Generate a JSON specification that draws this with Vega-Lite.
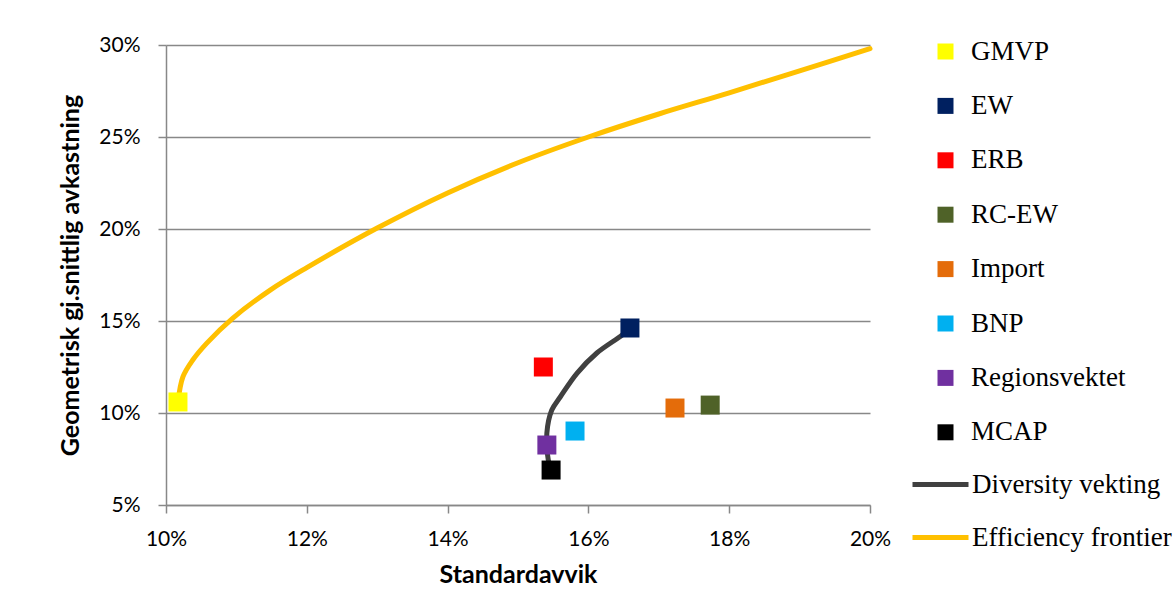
{
  "$schema": "https://vega.github.io/schema/vega-lite/v6.json",
  "width": 704,
  "height": 460,
  "autosize": {"type": "none"},
  "padding": {"left": 166, "top": 45, "right": 305, "bottom": 89},
  "background": "white",
  "config": {
    "view": {"stroke": null},
    "axis": {
      "labelFont": "Lato", "labelFontSize": 21, "labelColor": "#000000",
      "titleFont": "Lato", "titleFontSize": 25, "titleFontWeight": "bold", "titleColor": "#000000",
      "domainColor": "#888888", "tickColor": "#888888", "gridColor": "#888888",
      "domainWidth": 1.5, "tickWidth": 1.5, "gridWidth": 1.5
    },
    "legend": {
      "labelFont": "Liberation Serif", "labelFontSize": 27, "labelColor": "#000000",
      "labelLimit": 400, "orient": "none"
    }
  },
  "datasets": {
    "points": [
      {"name": "GMVP", "sd": 0.1017, "ret": 0.106},
      {"name": "EW", "sd": 0.1659, "ret": 0.1462},
      {"name": "ERB", "sd": 0.1536, "ret": 0.125},
      {"name": "RC-EW", "sd": 0.1773, "ret": 0.1043},
      {"name": "Import", "sd": 0.1723, "ret": 0.1027},
      {"name": "BNP", "sd": 0.1581, "ret": 0.0902},
      {"name": "Regionsvektet", "sd": 0.1541, "ret": 0.0826},
      {"name": "MCAP", "sd": 0.1547, "ret": 0.069}
    ],
    "lines": [
      {"series": "Efficiency frontier", "i": 1, "sd": 0.1017, "ret": 0.106},
      {"series": "Efficiency frontier", "i": 2, "sd": 0.1024, "ret": 0.1196},
      {"series": "Efficiency frontier", "i": 3, "sd": 0.1038, "ret": 0.1288},
      {"series": "Efficiency frontier", "i": 4, "sd": 0.1058, "ret": 0.138},
      {"series": "Efficiency frontier", "i": 5, "sd": 0.1095, "ret": 0.1516},
      {"series": "Efficiency frontier", "i": 6, "sd": 0.1148, "ret": 0.1668},
      {"series": "Efficiency frontier", "i": 7, "sd": 0.12, "ret": 0.179},
      {"series": "Efficiency frontier", "i": 8, "sd": 0.13, "ret": 0.2005},
      {"series": "Efficiency frontier", "i": 9, "sd": 0.14, "ret": 0.2196},
      {"series": "Efficiency frontier", "i": 10, "sd": 0.15, "ret": 0.236},
      {"series": "Efficiency frontier", "i": 11, "sd": 0.16, "ret": 0.25},
      {"series": "Efficiency frontier", "i": 12, "sd": 0.17, "ret": 0.2625},
      {"series": "Efficiency frontier", "i": 13, "sd": 0.18, "ret": 0.274},
      {"series": "Efficiency frontier", "i": 14, "sd": 0.19, "ret": 0.286},
      {"series": "Efficiency frontier", "i": 15, "sd": 0.20, "ret": 0.298},
      {"series": "Diversity vekting", "i": 1, "sd": 0.1547, "ret": 0.069},
      {"series": "Diversity vekting", "i": 2, "sd": 0.1543, "ret": 0.0745},
      {"series": "Diversity vekting", "i": 3, "sd": 0.1541, "ret": 0.0891},
      {"series": "Diversity vekting", "i": 4, "sd": 0.1548, "ret": 0.1016},
      {"series": "Diversity vekting", "i": 5, "sd": 0.156, "ret": 0.1087},
      {"series": "Diversity vekting", "i": 6, "sd": 0.1584, "ret": 0.1217},
      {"series": "Diversity vekting", "i": 7, "sd": 0.1612, "ret": 0.1326},
      {"series": "Diversity vekting", "i": 8, "sd": 0.1648, "ret": 0.1424},
      {"series": "Diversity vekting", "i": 9, "sd": 0.1659, "ret": 0.1462}
    ]
  },
  "layer": [
    {
      "data": {"name": "lines"},
      "mark": {"type": "line", "strokeWidth": 5, "interpolate": "catmull-rom", "strokeCap": "round"},
      "encoding": {
        "x": {"field": "sd", "type": "quantitative",
          "scale": {"domain": [0.10, 0.20], "nice": false, "zero": false},
          "axis": {"format": ".0%", "values": [0.10, 0.12, 0.14, 0.16, 0.18, 0.20], "grid": false,
            "labelFlush": false, "labelBound": false,
            "title": "Standardavvik", "tickSize": 8, "labelPadding": 15, "titlePadding": 13}},
        "y": {"field": "ret", "type": "quantitative",
          "scale": {"domain": [0.05, 0.30], "nice": false, "zero": false},
          "axis": {"format": ".0%", "values": [0.05, 0.10, 0.15, 0.20, 0.25, 0.30], "grid": true,
            "labelFlush": false,
            "title": "Geometrisk gj.snittlig avkastning", "tickSize": 8, "labelPadding": 18, "titlePadding": 15}},
        "stroke": {"field": "series", "type": "nominal",
          "scale": {"domain": ["Diversity vekting", "Efficiency frontier"], "range": ["#404040", "#FFC000"]},
          "legend": {"title": null, "legendX": 744, "legendY": 409, "symbolType": "stroke",
            "symbolSize": 3136, "symbolStrokeWidth": 5, "labelOffset": 1, "rowPadding": 9}},
        "order": {"field": "i", "type": "quantitative"}
      }
    },
    {
      "data": {"name": "points"},
      "mark": {"type": "square", "size": 361, "filled": true, "opacity": 1},
      "encoding": {
        "x": {"field": "sd", "type": "quantitative"},
        "y": {"field": "ret", "type": "quantitative"},
        "color": {"field": "name", "type": "nominal",
          "scale": {"domain": ["GMVP", "EW", "ERB", "RC-EW", "Import", "BNP", "Regionsvektet", "MCAP"],
            "range": ["#FFFF00", "#002060", "#FF0000", "#4F6228", "#E46C0A", "#00B0F0", "#7030A0", "#000000"]},
          "legend": {"title": null, "legendX": 766, "legendY": -7, "symbolType": "square",
            "symbolSize": 256, "symbolStrokeWidth": 0, "labelOffset": 12, "rowPadding": 26.4, "symbolOpacity": 1}}
      }
    }
  ]
}
